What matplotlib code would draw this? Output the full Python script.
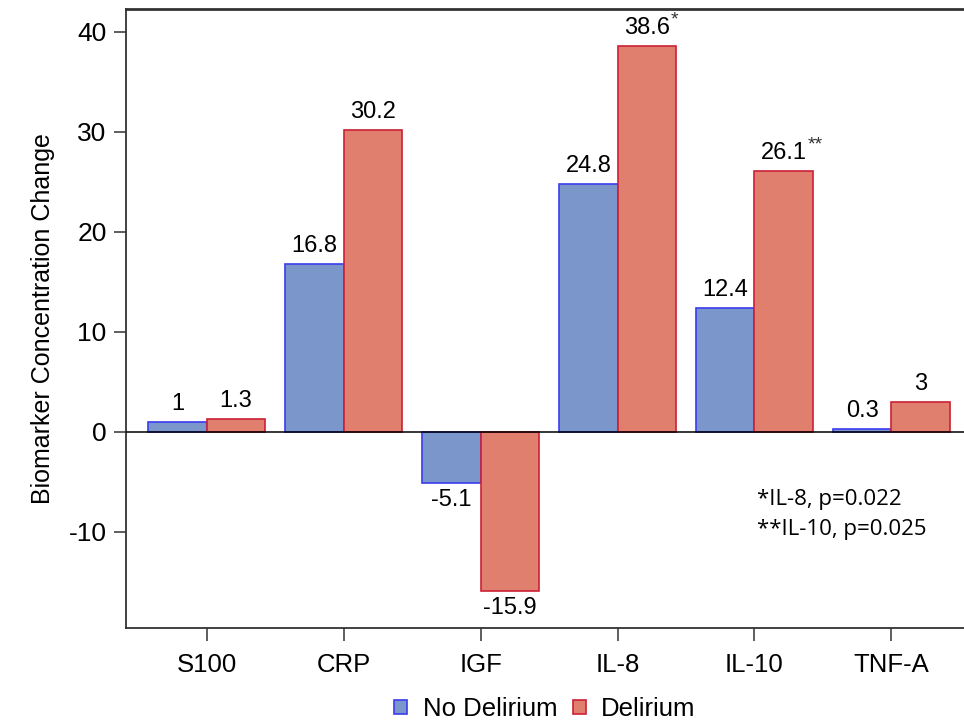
import matplotlib.pyplot as plt
import numpy as np

plt.rcParams['font.family'] = ['Liberation Sans', 'DejaVu Sans']

markers = ['S100', 'CRP', 'IGF', 'IL-8', 'IL-10', 'TNF-A']
no_delirium = [1, 16.8, -5.1, 24.8, 12.4, 0.3]
delirium = [1.3, 30.2, -15.9, 38.6, 26.1, 3]
no_labels = ['1', '16.8', '-5.1', '24.8', '12.4', '0.3']
de_labels = ['1.3', '30.2', '-15.9', '38.6', '26.1', '3']
stars = ['', '', '', '*', '**', '']
yticks = [-10, 0, 10, 20, 30, 40]

blue_fill = '#7b96cb'
blue_edge = '#3b3bf0'
red_fill = '#e07f6e'
red_edge = '#cc2035'

fig = plt.figure(figsize=(9.64, 7.24), dpi=100)
ax = fig.add_axes([0.1307, 0.1326, 0.8693, 0.855])

x = np.arange(len(markers))
w = 0.427
b1 = ax.bar(x - w / 2, no_delirium, w, color=blue_fill, edgecolor=blue_edge,
            linewidth=1.2, label='No Delirium')
b2 = ax.bar(x + w / 2, delirium, w, color=red_fill, edgecolor=red_edge,
            linewidth=1.2, label='Delirium')

ax.axhline(0, color='black', linewidth=1.1, zorder=3)

def label_bars(bars, vals, labels):
    for rect, v, s in zip(bars, vals, labels):
        cx = rect.get_x() + rect.get_width() / 2
        if v >= 0:
            ax.annotate(s, (cx, v), xytext=(0, 5), textcoords='offset points',
                        ha='center', va='bottom', fontsize=17)
        else:
            ax.annotate(s, (cx, v), xytext=(0, -4), textcoords='offset points',
                        ha='center', va='top', fontsize=17)

label_bars(b1, no_delirium, no_labels)
label_bars(b2, delirium, de_labels)

# significance stars next to the delirium labels
for rect, v, s in zip(b2, delirium, stars):
    if s:
        cx = rect.get_x() + rect.get_width() / 2
        ax.annotate(s, (cx, v), xytext=(17, 19), textcoords='offset points',
                    ha='left', va='center', fontsize=14, color='#333333')

ax.text(0.753, 0.224, '*IL-8, p=0.022\n**IL-10, p=0.025', transform=ax.transAxes,
        ha='left', va='top', fontsize=16, linespacing=1.55,
        family=['Open Sans', 'DejaVu Sans'])

ax.set_xlim(-0.59, 5.53)
ax.set_ylim(-19.6, 42.3)
ax.set_xticks(x)
ax.set_xticklabels(markers, fontsize=18.5)
ax.set_yticks(yticks)
ax.set_yticklabels([str(t) for t in yticks], fontsize=19)
ax.tick_params(axis='both', length=9, width=1.1, color='#333333')
ax.tick_params(axis='x', pad=9)
ax.tick_params(axis='y', pad=5)
ax.set_ylabel('Biomarker Concentration Change', fontsize=18, labelpad=10)

ax.spines['right'].set_visible(False)
for sp in ['left', 'top', 'bottom']:
    ax.spines[sp].set_linewidth(1.3)
    ax.spines[sp].set_color('#333333')
ax.spines['top'].set_linewidth(2.0)

ax.legend(loc='center', bbox_to_anchor=(0.5, -0.131), ncol=2, frameon=False,
          fontsize=18.5, handlelength=0.5, handleheight=0.5, handletextpad=0.6,
          columnspacing=0.6, borderpad=0.1)

fig.savefig('out.png', dpi=100)
